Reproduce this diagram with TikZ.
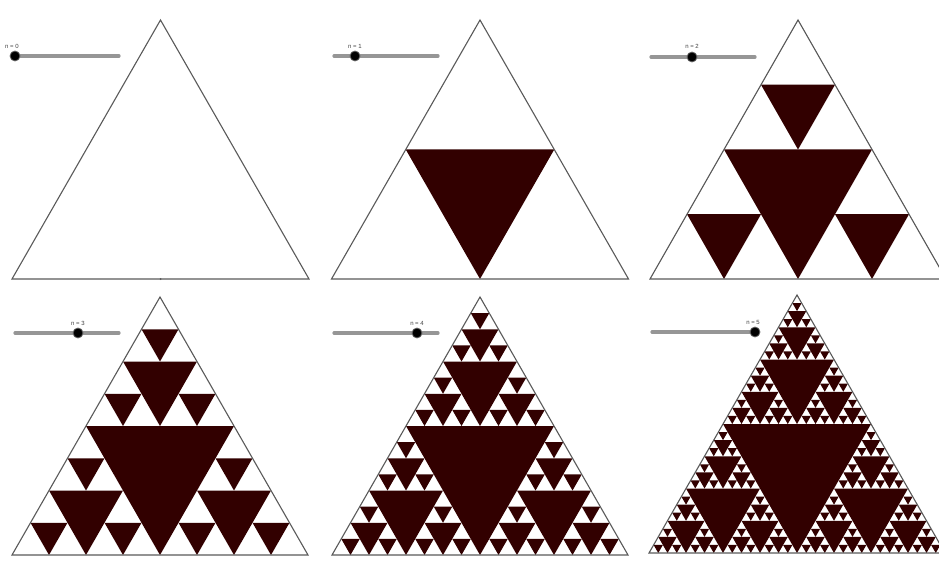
\documentclass[tikz,border=0pt]{standalone}
\usepackage{fontspec}
\setmainfont{Liberation Sans}
\definecolor{holebrown}{HTML}{320000}
\definecolor{edgegray}{HTML}{5A5A5A}
\definecolor{slidergray}{HTML}{969696}
\tikzset{
  hole/.style={fill=holebrown},
  outline/.style={draw=edgegray, line width=1.1pt, line join=miter},
  sliderline/.style={draw=slidergray, line width=3.2pt, line cap=round},
  sliderknob/.style={circle, fill=black, draw=black!60, line width=0.8pt, inner sep=0pt, minimum size=10pt},
  sliderlabel/.style={font=\fontsize{6}{7}\selectfont, text=black!75, inner sep=0pt}
}
% recursive Sierpinski holes: apex x, apex y, width, height, depth
\newcommand\sierHoles[5]{%
  \ifnum#5>0
    \begingroup
    \pgfmathsetmacro\sierX{#1}%
    \pgfmathsetmacro\sierY{#2}%
    \pgfmathsetmacro\sierW{#3}%
    \pgfmathsetmacro\sierH{#4}%
    \pgfmathsetmacro\sierQ{\sierW/4}%
    \pgfmathsetmacro\sierHW{\sierW/2}%
    \pgfmathsetmacro\sierHH{\sierH/2}%
    \pgfmathsetmacro\sierL{\sierX-\sierQ}%
    \pgfmathsetmacro\sierR{\sierX+\sierQ}%
    \pgfmathsetmacro\sierM{\sierY+\sierHH}%
    \pgfmathsetmacro\sierB{\sierY+\sierH}%
    \pgfmathtruncatemacro\sierN{#5-1}%
    \fill[hole] (\sierL,\sierM) -- (\sierR,\sierM) -- (\sierX,\sierB) -- cycle;
    \sierHoles{\sierX}{\sierY}{\sierHW}{\sierHH}{\sierN}%
    \sierHoles{\sierL}{\sierM}{\sierHW}{\sierHH}{\sierN}%
    \sierHoles{\sierR}{\sierM}{\sierHW}{\sierHH}{\sierN}%
    \endgroup
  \fi}
% full panel: apex x, apex y, width, height, depth
\newcommand\sierPanel[5]{%
  \sierHoles{#1}{#2}{#3}{#4}{#5}%
  \pgfmathsetmacro\panL{#1-#3/2}%
  \pgfmathsetmacro\panR{#1+#3/2}%
  \pgfmathsetmacro\panB{#2+#4}%
  \draw[outline] (#1,#2) -- (\panR,\panB) -- (\panL,\panB) -- cycle;}
\begin{document}
\begin{tikzpicture}[x=1pt,y=-1pt]
\useasboundingbox (0,0) rectangle (939,569);
\clip (0,0) rectangle (939,569);
\fill[white] (0,0) rectangle (939,569);

% triangles
\sierPanel{160.5}{20}{297}{259}{0}
\fill[edgegray] (160.5,279) circle (1pt);
\sierPanel{480}{20}{297}{259}{1}
\sierPanel{798}{20}{296}{259}{2}
\sierPanel{160}{297}{296}{258}{3}
\sierPanel{480}{297}{296}{258}{4}
\sierPanel{797}{295}{296}{258}{5}

% sliders
\coordinate (s0a) at (15,56);   \coordinate (s0b) at (119,56);
\coordinate (s1a) at (334,56);  \coordinate (s1b) at (438,56);
\coordinate (s2a) at (651,57);  \coordinate (s2b) at (755,57);
\coordinate (s3a) at (15,333);  \coordinate (s3b) at (119,333);
\coordinate (s4a) at (334,333); \coordinate (s4b) at (438,333);
\coordinate (s5a) at (652,332); \coordinate (s5b) at (756,332);
\draw[sliderline] (s0a) -- (s0b);
\draw[sliderline] (s1a) -- (s1b);
\draw[sliderline] (s2a) -- (s2b);
\draw[sliderline] (s3a) -- (s3b);
\draw[sliderline] (s4a) -- (s4b);
\draw[sliderline] (s5a) -- (s5b);
\node[sliderknob] (k0) at (15,56) {};
\node[sliderknob] (k1) at (355,56) {};
\node[sliderknob] (k2) at (692,57) {};
\node[sliderknob] (k3) at (78,333) {};
\node[sliderknob] (k4) at (417,333) {};
\node[sliderknob] (k5) at (755,332) {};
\node[sliderlabel] (l0) at (12,46) {n = 0};
\node[sliderlabel] (l1) at (355,46) {n = 1};
\node[sliderlabel] (l2) at (692,46) {n = 2};
\node[sliderlabel] (l3) at (78,323) {n = 3};
\node[sliderlabel] (l4) at (417,323) {n = 4};
\node[sliderlabel] (l5) at (753,322) {n = 5};
\end{tikzpicture}
\end{document}
